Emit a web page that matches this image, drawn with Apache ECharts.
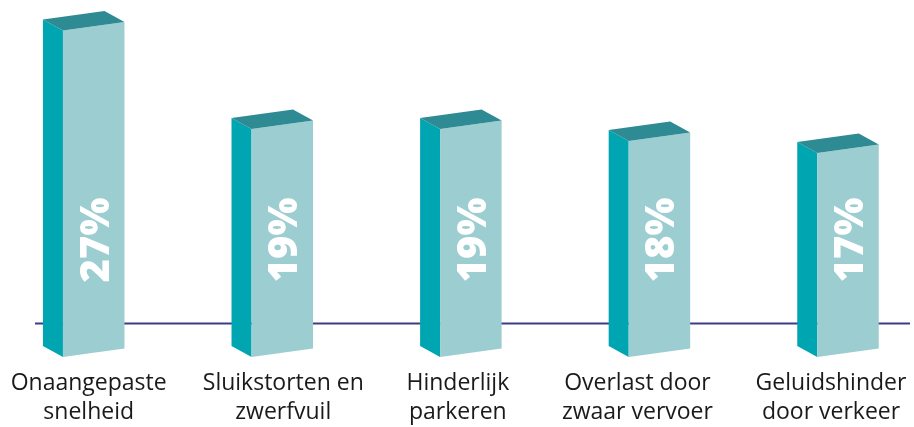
<!DOCTYPE html>
<html>
<head>
<meta charset="utf-8">
<script src="https://cdn.jsdelivr.net/npm/echarts@6/dist/echarts.min.js"></script>
<style>
  html, body { margin: 0; padding: 0; background: #fff; }
  #chart { width: 914px; height: 427px; }
</style>
</head>
<body>
<div id="chart"></div>
<script>
// data
var categories = ['Onaangepaste\nsnelheid', 'Sluikstorten en\nzwerfvuil', 'Hinderlijk\nparkeren', 'Overlast door\nzwaar vervoer', 'Geluidshinder\ndoor verkeer'];
var values = [27.2, 19, 19, 18, 17];
var valueLabels = ['27%', '19%', '19%', '18%', '17%'];

// layout bits (not data)
var labelShift = [-5, 1, -13, -22, -17];
var labelLevel = 9.75;   // where the rotated % text sits, in axis units
var lineLevel = 2.8;     // the purple baseline, in axis units

var colFront = '#9bcdd1';
var colSide = '#00a5b2';
var colTop = '#2e8a93';

var chart = echarts.init(document.getElementById('chart'));

function renderBar(params, api) {
    var i = api.value(0);
    var base = api.coord([i, 0]);
    var top = api.coord([i, api.value(1)]);
    var mid = api.coord([i, labelLevel]);
    var half = 30.75, sk = 8.5, sw = 20, sd = 11;
    var x0 = base[0] - half, x1 = base[0] + half;
    var yb = base[1], yt = top[1];
    return {
        type: 'group',
        children: [{
            type: 'polygon',
            shape: { points: [[x0 - sw, yt - sd], [x0, yt], [x0, yb], [x0 - sw, yb - sd]] },
            style: { fill: colSide }
        }, {
            type: 'polygon',
            shape: { points: [[x0, yt], [x1, yt - sk], [x1, yb - sk], [x0, yb]] },
            style: { fill: colFront }
        }, {
            type: 'polygon',
            shape: { points: [[x0 - sw, yt - sd], [x1 - sw, yt - sk - sd], [x1, yt - sk], [x0, yt]] },
            style: { fill: colTop }
        }, {
            type: 'text',
            x: base[0] + 3.5,
            y: mid[1],
            rotation: Math.PI / 2,
            style: {
                text: valueLabels[i],
                fill: '#fff',
                fontSize: 40,
                fontWeight: 800,
                fontFamily: 'Open Sans',
                align: 'center',
                verticalAlign: 'middle'
            }
        }, {
            type: 'text',
            x: base[0] + labelShift[i],
            y: 369,
            style: {
                text: categories[i],
                fill: '#1a1a1a',
                fontSize: 23,
                fontFamily: 'Open Sans',
                lineHeight: 29,
                align: 'center',
                verticalAlign: 'top'
            }
        }]
    };
}

chart.setOption({
    animation: false,
    grid: { left: 93.7, right: 66, top: 0, bottom: 70 },
    xAxis: {
        type: 'category',
        data: categories,
        boundaryGap: false,
        axisLine: { show: false },
        axisTick: { show: false },
        axisLabel: { show: false },
        splitLine: { show: false }
    },
    yAxis: {
        type: 'value',
        min: 0,
        max: 29.75,
        show: false
    },
    series: [{
        type: 'custom',
        zlevel: 1,
        z: 5,
        renderItem: renderBar,
        clip: false,
        data: values.map(function (v, i) { return [i, v]; })
    }]
});

var lineY = chart.convertToPixel({ yAxisIndex: 0 }, lineLevel);
chart.setOption({
    graphic: [{
        type: 'line',
        zlevel: 0,
        z: 0,
        shape: { x1: 35, y1: lineY, x2: 910, y2: lineY },
        style: { stroke: '#3c3c8a', lineWidth: 2 }
    }]
});
</script>
</body>
</html>
